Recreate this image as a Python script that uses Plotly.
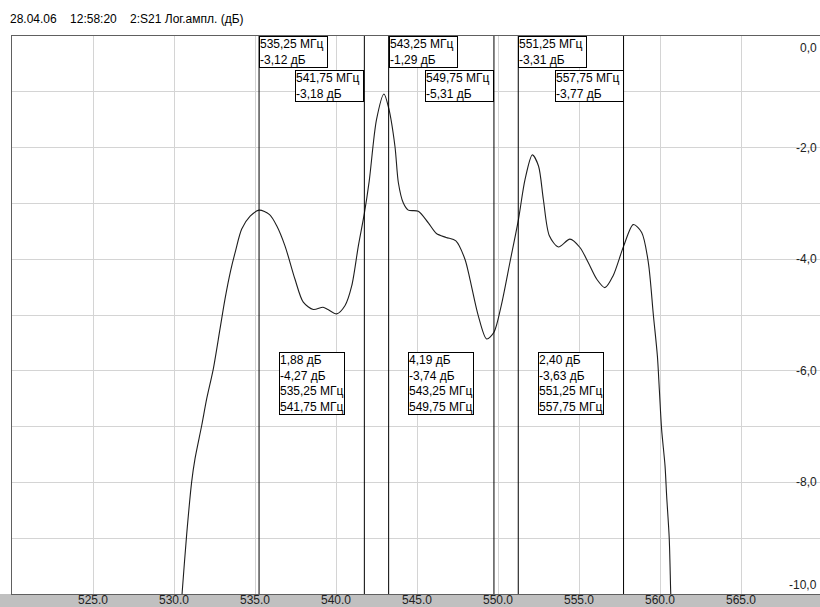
import plotly.graph_objects as go

# ---------------- data ----------------
freq_mhz = [530.35, 530.51, 530.78, 531.09, 531.30, 531.71, 532.02, 532.43, 532.84, 533.15,
            533.50, 533.80, 534.18, 534.70, 535.25, 535.90, 536.34, 536.85, 537.47, 537.98,
            538.60, 539.20, 539.50, 540.04, 540.56, 540.97, 541.38, 541.75, 542.05, 542.50,
            542.96, 543.25, 543.64, 543.85, 544.15, 544.46, 545.08, 545.70, 546.20, 546.80,
            547.40, 547.96, 548.27, 548.78, 549.30, 549.75, 550.20, 550.74, 551.25, 551.67,
            552.12, 552.50, 552.80, 553.17, 553.73, 554.44, 555.06, 555.57, 556.10, 556.60,
            557.10, 557.75, 558.35, 558.87, 559.28, 559.59, 559.84, 559.96, 560.10, 560.31,
            560.41, 560.57, 560.66, 560.72]
s21_db = [-10.60, -9.95, -8.94, -7.99, -7.57, -6.98, -6.50, -5.96, -5.25, -4.71,
          -4.20, -3.85, -3.46, -3.23, -3.12, -3.20, -3.40, -3.76, -4.36, -4.77,
          -4.90, -4.86, -4.90, -4.98, -4.83, -4.48, -3.76, -3.18, -2.60, -1.50,
          -1.04, -1.29, -1.98, -2.63, -2.99, -3.12, -3.14, -3.35, -3.54, -3.61,
          -3.67, -4.00, -4.36, -5.01, -5.43, -5.31, -4.83, -4.05, -3.31, -2.57,
          -2.13, -2.33, -2.93, -3.58, -3.78, -3.64, -3.79, -4.06, -4.36, -4.51,
          -4.30, -3.77, -3.38, -3.52, -4.06, -5.00, -5.74, -6.34, -7.05, -7.70,
          -8.24, -9.00, -9.96, -10.50]

marker_freqs = [535.25, 541.75, 543.25, 549.75, 551.25, 557.75]
marker_freq_text = ["535,25", "541,75", "543,25", "549,75", "551,25", "557,75"]
marker_db_text = ["-3,12", "-3,18", "-1,29", "-5,31", "-3,31", "-3,77"]

band_delta_text = ["1,88", "4,19", "2,40"]
band_level_text = ["-4,27", "-3,74", "-3,63"]
band_label_y = -5.66

x_ticks = [525.0, 530.0, 535.0, 540.0, 545.0, 550.0, 555.0, 560.0, 565.0]
y_label_vals = [0.0, -2.0, -4.0, -6.0, -8.0, -10.0]
header_text = "28.04.06\u00a0\u00a0\u00a0 12:58:20\u00a0\u00a0\u00a0 2:S21 Лог.ампл. (дБ)"

# ---------------- figure ----------------
FONT = "Liberation Sans, Arial, sans-serif"
W, H = 820, 607
ML, MR, MT, MB = 12, 0, 36, 13
PW, PH = W - ML - MR, H - MT - MB

fig = go.Figure()
fig.add_trace(go.Scatter(
    x=freq_mhz, y=s21_db, mode="lines",
    line=dict(color="#1e1e1e", width=1.1, shape="spline", smoothing=0.8),
    showlegend=False, hoverinfo="skip"))

shapes = []
# grey bottom bar
shapes.append(dict(type="rect", xref="paper", yref="paper",
                   x0=-ML / PW, x1=1 + 10 / PW, y0=-MB / PH - 0.01, y1=0,
                   fillcolor="#c0c0c0", line=dict(width=0), layer="below"))
# marker lines
for f in marker_freqs:
    shapes.append(dict(type="line", xref="x", yref="paper", x0=f, x1=f, y0=0, y1=1,
                       line=dict(color="#000000", width=1), layer="above"))

annotations = []
annotations.append(dict(text=header_text, xref="paper", yref="paper", x=0, y=1,
                        xanchor="left", yanchor="middle", xshift=-4, yshift=17,
                        showarrow=False, font=dict(family=FONT, size=12, color="#000")))

# marker boxes at top
for i, f in enumerate(marker_freqs):
    first = (i % 2 == 0)
    annotations.append(dict(
        text=f"{marker_freq_text[i]} МГц\u00a0<br>{marker_db_text[i]} дБ",
        xref="x", yref="paper", x=f, y=1,
        xanchor="left" if first else "right", yanchor="top",
        yshift=0 if first else -34, align="left", showarrow=False,
        bgcolor="#ffffff", bordercolor="#000000", borderwidth=1, borderpad=0,
        font=dict(family=FONT, size=12, color="#000")))

# band boxes
for j in range(3):
    f1, f2 = marker_freqs[2 * j], marker_freqs[2 * j + 1]
    annotations.append(dict(
        text=(f"{band_delta_text[j]} дБ<br>{band_level_text[j]} дБ<br>"
              f"{marker_freq_text[2*j]} МГц<br>{marker_freq_text[2*j+1]} МГц"),
        xref="x", yref="y", x=(f1 + f2) / 2, y=band_label_y,
        xanchor="center", yanchor="top", align="left", showarrow=False,
        bgcolor="#ffffff", bordercolor="#000000", borderwidth=1, borderpad=0,
        font=dict(family=FONT, size=12, color="#000")))

# right-side y labels
for v in y_label_vals:
    if v == max(y_label_vals):
        ya, ys = "top", -3
    elif v == min(y_label_vals):
        ya, ys = "bottom", 0
    else:
        ya, ys = "middle", 0
    annotations.append(dict(
        text=f"{v:.1f}".replace(".", ","), xref="paper", yref="y", x=1, y=v,
        xanchor="right", yanchor=ya, xshift=-1, yshift=ys, showarrow=False,
        font=dict(family=FONT, size=12, color="#222")))

fig.update_layout(
    width=W, height=H, margin=dict(l=ML, r=MR, t=MT, b=MB, pad=0, autoexpand=False),
    paper_bgcolor="#ffffff", plot_bgcolor="#ffffff",
    shapes=shapes, annotations=annotations, showlegend=False,
    font=dict(family=FONT, size=12, color="#222"),
)
fig.update_xaxes(
    range=[520, 520 + PW / 16.2], tickvals=x_ticks,
    ticktext=[f"{t:.1f}" for t in x_ticks],
    showgrid=True, gridcolor="#d4d4d4", gridwidth=1, zeroline=False,
    showline=True, linecolor="#606060", linewidth=1, mirror=True,
    ticks="", automargin=False, ticklabelstandoff=-5,
    tickfont=dict(family=FONT, size=12, color="#222"),
    fixedrange=True)
fig.update_yaxes(
    range=[-10, 0], dtick=1, tick0=0, showticklabels=False,
    showgrid=True, gridcolor="#d4d4d4", gridwidth=1, zeroline=False,
    showline=True, linecolor="#606060", linewidth=1, mirror=True,
    ticks="", automargin=False, fixedrange=True)

fig.write_html("out.html")
